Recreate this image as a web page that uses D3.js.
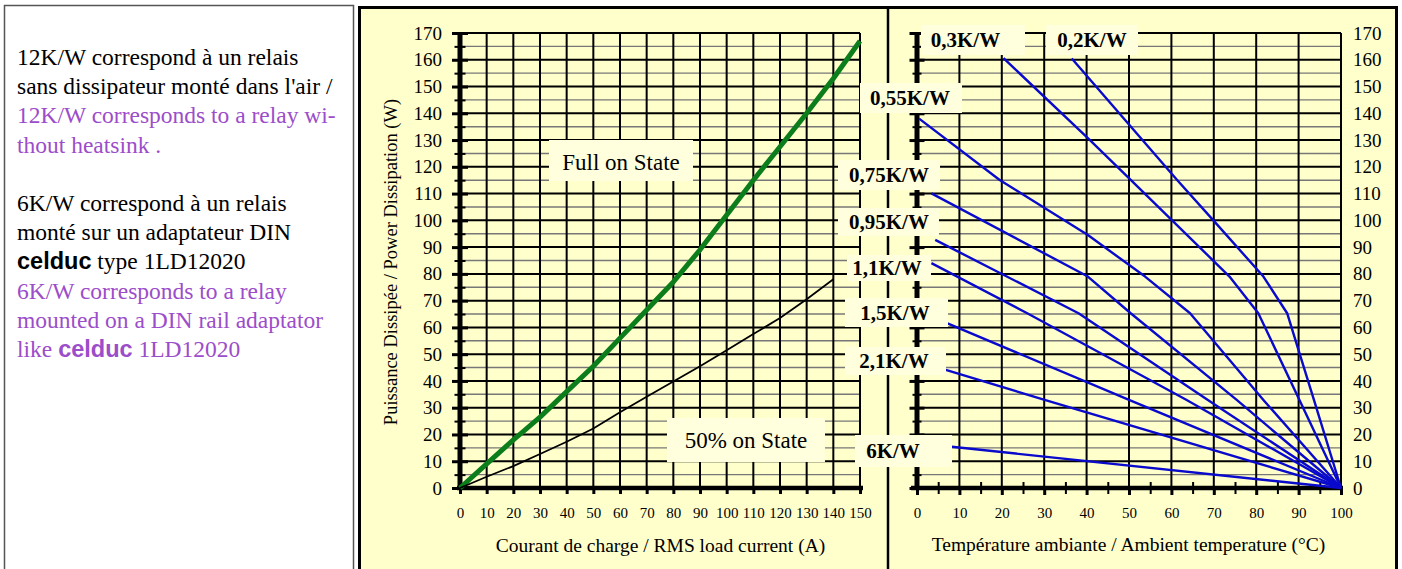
<!DOCTYPE html>
<html><head><meta charset="utf-8">
<script src="https://cdn.jsdelivr.net/npm/d3@7"></script>
<style>
body{margin:0;background:#fff}
svg{display:block}
text{white-space:pre}
</style>
</head><body>
<svg id="c" width="1402" height="569" font-family="Liberation Serif, Times New Roman, serif"></svg>
<script>
// ---------- data ----------
const loadCurrent = [0,10,20,23,30,40,50,60,70,80,90,100,110,120,130,140,150];
const fullOnPower = [0,9,18,20.5,26.5,36,45.5,56,66.5,77,89,102,115,127.5,140,153,167];
const halfCurrent = [0,10,20,30,40,50,60,70,80,90,100,110,120,130,140];
const halfOnPower = [0,4.2,8.2,12.7,17.3,22.2,28.3,34.1,39.8,45.5,51.5,57.5,63.5,70.5,78];

const rthNames  = ["0,2K/W","0,3K/W","0,55K/W","0,75K/W","0,95K/W","1,1K/W","1,5K/W","2,1K/W","6K/W"];
const rthTemps  = [
  [36.5,61.4,69.9,81.7,87.3,90.2,93.6,100],
  [20.4,40.3,50.4,60.1,73.7,80.5,90.2,100],
  [0.5,19.5,40.3,53.8,64.4,81.7,100],
  [3.4,40.3,50.4,75.4,100],
  [4.3,38.1,68.6,100],
  [3.4,26,63.6,100],
  [7.2,50,100],
  [6.8,30.1,100],
  [8.2,100]
];
const rthPowers = [
  [160.5,115,100,79,65.3,50.4,33,0],
  [160.6,130.7,115.1,100.1,79,65.3,32.9,0],
  [138,115.1,94.5,79,65.3,32.9,0],
  [110.1,79,65.3,32.9,0],
  [92.7,65.3,32.9,0],
  [84,65.3,32.9,0],
  [61.5,32.9,0],
  [44.1,32.9,0],
  [15.4,0]
];
const currentTicks = [0,10,20,30,40,50,60,70,80,90,100,110,120,130,140,150];
const tempTicks    = [0,10,20,30,40,50,60,70,80,90,100];
const powerTicks   = [0,10,20,30,40,50,60,70,80,90,100,110,120,130,140,150,160,170];

const xTitleLeft  = "Courant de charge / RMS load current (A)";
const xTitleRight = "Température ambiante / Ambient temperature (°C)";
const yTitle      = "Puissance Dissipée / Power Dissipation (W)";
const fullLabel   = "Full on State";
const halfLabel   = "50% on State";

// left note: [text, style] per line ; k=black, p=purple, b=bold sans
const noteLines = [
  [["12K/W correspond à un relais","k"]],
  [["sans dissipateur monté dans l'air /","k"]],
  [["12K/W corresponds to a relay wi-","p"]],
  [["thout heatsink .","p"]],
  [],
  [["6K/W correspond à un relais","k"]],
  [["monté sur un adaptateur DIN","k"]],
  [["celduc","kb"],[" type 1LD12020","k"]],
  [["6K/W corresponds to a relay","p"]],
  [["mounted on a DIN rail adaptator","p"]],
  [["like ","p"],["celduc","pb"],[" 1LD12020","p"]]
];

// ---------- layout ----------
const BG = "#FFFFCC", BOX = "#FFFFDD", PURPLE = "#9b4dca";
const SERIF = "Liberation Serif, Times New Roman, serif";
const SANS = "Liberation Sans, Arial, sans-serif";
const rthBoxes = [
  [1046,1138,25,55],[921,1025,25,55],[860,962,83,113],[838,940,160,190],
  [838,939,208,236],[847,931,255,281],[845,948,298,327],[845,946,347,375],[855,952,435,467]
];
const rthTextX = [1092,965.5,910,889,889,887,895,894,893];
const fullBox = [549,693,140,181], halfBox = [667,825,418,462];

const svg = d3.select("#c");
function txt(sel){ return sel.append("text").attr("font-family",SERIF).attr("fill","#000"); }

// left panel
svg.append("rect").attr("x",4.5).attr("y",5.5).attr("width",349).attr("height",600)
  .attr("fill","#fff").attr("stroke","#555").attr("stroke-width",1.5);
noteLines.forEach((segs,i)=>{
  if(!segs.length) return;
  const t = txt(svg).attr("x",17).attr("y",65+i*29.2).attr("font-size",23.5);
  segs.forEach(([s,st])=>{
    const ts = t.append("tspan").text(s).attr("fill", st[0]==="p"?PURPLE:"#000");
    if(st.includes("b")) ts.attr("font-family",SANS).attr("font-weight","bold");
    else ts.attr("font-family",SERIF);
  });
});

// chart frame
svg.append("rect").attr("x",359.5).attr("y",7.5).attr("width",1037).attr("height",600)
  .attr("fill",BG).attr("stroke","#000").attr("stroke-width",3);

const y  = d3.scaleLinear([0,170],[488,33]);
const xL = d3.scaleLinear([0,150],[460,860]);
const xR = d3.scaleLinear([0,100],[917,1341]);

const minorPower = d3.range(5,171,10);
const allPower = d3.range(5,171,5);

function grid(x, xmax, vticks){
  const g = svg.append("g");
  g.selectAll(".h").data(allPower).join("line")
    .attr("x1",x(0)).attr("x2",x(xmax)).attr("y1",d=>y(d)).attr("y2",d=>y(d))
    .attr("stroke",d=>d%10===0?"#000":"#777").attr("stroke-width",d=>d%10===0?2:1.4);
  g.selectAll(".v").data(vticks.filter(d=>d>0)).join("line")
    .attr("x1",d=>x(d)).attr("x2",d=>x(d)).attr("y1",y(170)).attr("y2",y(0))
    .attr("stroke","#000").attr("stroke-width",2);
}
grid(xL,150,currentTicks);
grid(xR,100,tempTicks);

// divider
svg.append("line").attr("x1",888).attr("x2",888).attr("y1",7).attr("y2",569)
  .attr("stroke","#000").attr("stroke-width",2.5);

function styleAxis(g,fs){
  g.select(".domain").remove();
  g.selectAll("line").attr("stroke","#000");
  g.attr("font-family",SERIF).attr("font-size",fs);
  g.selectAll("text").attr("font-size",fs).attr("font-family",SERIF).attr("fill","#000");
}

// left y axis
const ly = svg.append("g").attr("transform",`translate(${xL(0)},0)`)
  .call(d3.axisLeft(y).tickValues(powerTicks).tickSize(8).tickPadding(10).tickSizeOuter(0));
styleAxis(ly,19); ly.selectAll("line").attr("stroke-width",3);
const ly2 = svg.append("g").attr("transform",`translate(${xL(0)},0)`)
  .call(d3.axisRight(y).tickValues(powerTicks).tickSize(8).tickFormat(""));
styleAxis(ly2,0); ly2.selectAll("line").attr("stroke-width",3);
[d3.axisLeft, d3.axisRight].forEach(ax=>{
  const m = svg.append("g").attr("transform",`translate(${xL(0)},0)`)
    .call(ax(y).tickValues(minorPower).tickSize(5.5).tickFormat(""));
  styleAxis(m,0); m.selectAll("line").attr("stroke-width",2);
});
svg.append("line").attr("x1",xL(0)).attr("x2",xL(0)).attr("y1",y(170)).attr("y2",y(0)+2)
  .attr("stroke","#000").attr("stroke-width",5);

// left x axis
const lx = svg.append("g").attr("transform",`translate(0,${y(0)})`)
  .call(d3.axisBottom(xL).tickValues(currentTicks).tickSize(6).tickPadding(13).tickSizeOuter(0));
styleAxis(lx,15); lx.selectAll("line").attr("stroke-width",3);
svg.append("line").attr("x1",xL(0)-3).attr("x2",xL(150)+3).attr("y1",y(0)).attr("y2",y(0))
  .attr("stroke","#000").attr("stroke-width",4.5);

// right y axis (ticks both sides, no labels)
[d3.axisLeft, d3.axisRight].forEach(ax=>{
  const a = svg.append("g").attr("transform",`translate(${xR(0)},0)`)
    .call(ax(y).tickValues(powerTicks).tickSize(7.5).tickFormat(""));
  styleAxis(a,0); a.selectAll("line").attr("stroke-width",3);
  const m = svg.append("g").attr("transform",`translate(${xR(0)},0)`)
    .call(ax(y).tickValues(minorPower).tickSize(4.5).tickFormat(""));
  styleAxis(m,0); m.selectAll("line").attr("stroke-width",2);
});
svg.append("line").attr("x1",xR(0)).attr("x2",xR(0)).attr("y1",y(170)).attr("y2",y(0)+2)
  .attr("stroke","#000").attr("stroke-width",5);
const ry = svg.append("g").attr("transform",`translate(${xR(100)},0)`)
  .call(d3.axisRight(y).tickValues(powerTicks).tickSize(0).tickPadding(12));
styleAxis(ry,19);

// right x axis
const rx = svg.append("g").attr("transform",`translate(0,${y(0)})`)
  .call(d3.axisBottom(xR).tickValues(tempTicks).tickSize(7).tickPadding(12).tickSizeOuter(0));
styleAxis(rx,15); rx.selectAll("line").attr("stroke-width",3);
[d3.axisBottom, d3.axisTop].forEach(ax=>{
  const m = svg.append("g").attr("transform",`translate(0,${y(0)})`)
    .call(ax(xR).tickValues(d3.range(5,100,10)).tickSize(6).tickFormat(""));
  styleAxis(m,0); m.selectAll("line").attr("stroke-width",2);
});
svg.append("line").attr("x1",xR(0)-6).attr("x2",xR(100)+2).attr("y1",y(0)).attr("y2",y(0))
  .attr("stroke","#000").attr("stroke-width",4.5);

// curves
const lineL = d3.line().x(d=>xL(d[0])).y(d=>y(d[1]));
svg.append("path").datum(loadCurrent.map((c,i)=>[c,fullOnPower[i]])).attr("d",lineL)
  .attr("fill","none").attr("stroke","#0b7d1b").attr("stroke-width",5).attr("stroke-linejoin","round");
svg.append("path").datum(halfCurrent.map((c,i)=>[c,halfOnPower[i]])).attr("d",lineL)
  .attr("fill","none").attr("stroke","#000").attr("stroke-width",1.8);

const lineR = d3.line().x(d=>xR(d[0])).y(d=>y(d[1]));
rthNames.forEach((n,k)=>{
  svg.append("path").datum(rthTemps[k].map((t,i)=>[t,rthPowers[k][i]])).attr("d",lineR)
    .attr("fill","none").attr("stroke","#0a0acc").attr("stroke-width",2.4).attr("stroke-linejoin","round");
});

// label boxes
function box(b){
  svg.append("rect").attr("x",b[0]).attr("y",b[2]).attr("width",b[1]-b[0]).attr("height",b[3]-b[2]).attr("fill",BOX);
}
box(fullBox); box(halfBox);
txt(svg).attr("x",621).attr("y",169.5).attr("text-anchor","middle").attr("font-size",23).text(fullLabel);
txt(svg).attr("x",746).attr("y",448).attr("text-anchor","middle").attr("font-size",23).text(halfLabel);
rthNames.forEach((n,k)=>{
  const b = rthBoxes[k];
  box(b);
  txt(svg).attr("x",rthTextX[k]).attr("y",(b[2]+b[3])/2+7.3)
    .attr("text-anchor","middle").attr("font-size",21).attr("font-weight","bold").text(n);
});

// axis titles
txt(svg).attr("x",660.5).attr("y",552).attr("text-anchor","middle").attr("font-size",19.5).text(xTitleLeft);
txt(svg).attr("x",1128.5).attr("y",551).attr("text-anchor","middle").attr("font-size",19.5).text(xTitleRight);
txt(svg).attr("transform","translate(397,262) rotate(-90)").attr("text-anchor","middle").attr("font-size",18.5).text(yTitle);
</script>
</body></html>
